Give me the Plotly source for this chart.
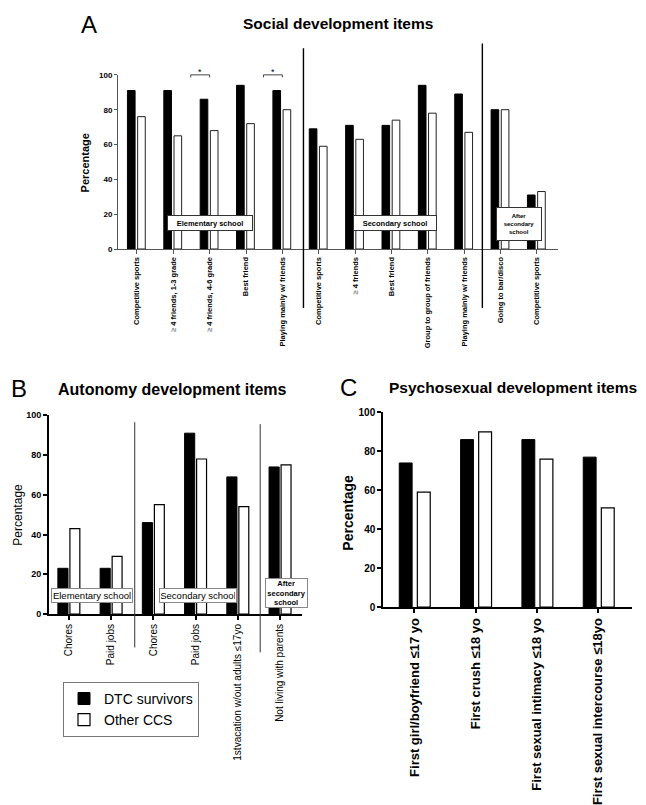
import plotly.graph_objects as go

W, H = 646, 805
FONT = "Liberation Sans, Arial, sans-serif"

# ---------------- data ----------------
a_labels = ["Competitive sports", "≥ 4 friends, 1-3 grade", "≥ 4 friends, 4-6 grade", "Best friend",
            "Playing mainly w/ friends", "Competitive sports", "≥ 4 friends", "Best friend",
            "Group to group of friends", "Playing mainly w/ friends", "Going to bar/disco",
            "Competitive sports"]
a_dtc = [91, 91, 86, 94, 91, 69, 71, 71, 94, 89, 80, 31]
a_other = [76, 65, 68, 72, 80, 59, 63, 74, 78, 67, 80, 33]

b_labels = ["Chores", "Paid jobs", "Chores", "Paid jobs", "1stvacation w/out adults ≤17yo",
            "Not living with parents"]
b_dtc = [23, 23, 46, 91, 69, 74]
b_other = [43, 29, 55, 78, 54, 75]

c_labels = ["First girl/boyfriend ≤17 yo", "First crush ≤18 yo", "First sexual intimacy ≤18 yo",
            "First sexual intercourse ≤18yo"]
c_dtc = [74, 86, 86, 77]
c_other = [59, 90, 76, 51]

series_names = ["DTC survivors", "Other CCS"]
y_ticks = [0, 20, 40, 60, 80, 100]


def px(x):
    return x / W


def py(y):
    return 1 - y / H


def gray_ge(s):
    return s.replace("≥", "<span style='color:#8a8a8a'>≥</span>")


fig = go.Figure()

# ---------------- Panel A ----------------
ax = list(range(len(a_labels)))
fig.add_trace(go.Bar(x=ax, y=a_dtc, offset=-0.26, width=0.21, marker=dict(color="black", line=dict(color="black", width=1)),
                     xaxis="x", yaxis="y", showlegend=False, name=series_names[0]))
fig.add_trace(go.Bar(x=ax, y=a_other, offset=0.02, width=0.21, marker=dict(color="white", line=dict(color="#222", width=1)),
                     xaxis="x", yaxis="y", showlegend=False, name=series_names[1]))

# ---------------- Panel B ----------------
bx = list(range(len(b_labels)))
fig.add_trace(go.Bar(x=bx, y=b_dtc, offset=-0.26, width=0.24, marker=dict(color="black", line=dict(color="black", width=1)),
                     xaxis="x2", yaxis="y2", showlegend=True, name=series_names[0]))
fig.add_trace(go.Bar(x=bx, y=b_other, offset=0.025, width=0.235, marker=dict(color="white", line=dict(color="black", width=1.2)),
                     xaxis="x2", yaxis="y2", showlegend=True, name=series_names[1]))

# ---------------- Panel C ----------------
cx = list(range(len(c_labels)))
fig.add_trace(go.Bar(x=cx, y=c_dtc, offset=-0.245, width=0.21, marker=dict(color="black", line=dict(color="black", width=1)),
                     xaxis="x3", yaxis="y3", showlegend=False, name=series_names[0]))
fig.add_trace(go.Bar(x=cx, y=c_other, offset=0.05, width=0.21, marker=dict(color="white", line=dict(color="black", width=1.2)),
                     xaxis="x3", yaxis="y3", showlegend=False, name=series_names[1]))

fig.update_layout(
    width=W, height=H, margin=dict(l=0, r=0, t=0, b=0), autosize=False,
    paper_bgcolor="white", plot_bgcolor="white", barmode="overlay",
    font=dict(family=FONT, color="black"),
    xaxis=dict(domain=[px(118), px(558)], range=[-0.52, 11.58], anchor="y",
               tickvals=ax, ticktext=[gray_ge(s) for s in a_labels], tickangle=-90,
               tickfont=dict(size=7.5, weight="bold", color="black"),
               showline=True, linecolor="#555", linewidth=1, ticks="outside", ticklen=4,
               tickcolor="#555", showgrid=False, zeroline=False),
    yaxis=dict(domain=[py(247), py(70)], range=[0, 100], anchor="x", tickvals=y_ticks,
               tickfont=dict(size=8, weight="bold", color="black"),
               showline=True, linecolor="#555", linewidth=1, ticks="outside", ticklen=3,
               tickcolor="#555", showgrid=False, zeroline=False),
    xaxis2=dict(domain=[px(49), px(302)], range=[-0.47, 5.52], anchor="y2",
                tickvals=bx, ticktext=b_labels, tickangle=-90,
                tickfont=dict(size=10, color="black"),
                showline=True, linecolor="black", linewidth=2, ticks="outside", ticklen=4,
                tickcolor="black", tickwidth=1.5, showgrid=False, zeroline=False),
    yaxis2=dict(domain=[py(618), py(416)], range=[0, 100], anchor="x2", tickvals=y_ticks,
                tickfont=dict(size=9, weight="bold", color="black"),
                showline=True, linecolor="black", linewidth=2, ticks="outside", ticklen=4,
                tickcolor="black", tickwidth=1.5, showgrid=False, zeroline=False),
    xaxis3=dict(domain=[px(383), px(632)], range=[-0.51, 3.55], anchor="y3",
                tickvals=cx, ticktext=c_labels, tickangle=-90,
                tickfont=dict(size=13, weight="bold", color="black"),
                showline=True, linecolor="black", linewidth=1.5, ticks="outside", ticklen=4,
                tickcolor="black", tickwidth=1.5, showgrid=False, zeroline=False),
    yaxis3=dict(domain=[py(611), py(413)], range=[0, 100], anchor="x3", tickvals=y_ticks,
                tickfont=dict(size=10, weight="bold", color="black"),
                showline=True, linecolor="black", linewidth=1.5, ticks="outside", ticklen=4,
                tickcolor="black", tickwidth=1.5, showgrid=False, zeroline=False),
    legend=dict(x=px(63), y=py(687), xanchor="left", yanchor="top", bgcolor="white",
                bordercolor="#777", borderwidth=1, font=dict(size=14, family=FONT),
                tracegroupgap=0, itemwidth=30),
)

shapes = []
# Panel A separators
shapes.append(dict(type="line", xref="x", yref="paper", x0=4.58, x1=4.58, y0=py(307), y1=py(43),
                   line=dict(color="black", width=1.4)))
shapes.append(dict(type="line", xref="x", yref="paper", x0=9.5, x1=9.5, y0=py(307), y1=py(38),
                   line=dict(color="black", width=1.4)))
# Panel B separators
shapes.append(dict(type="line", xref="x2", yref="paper", x0=1.56, x1=1.56, y0=py(652), y1=py(423),
                   line=dict(color="#333", width=1)))
shapes.append(dict(type="line", xref="x2", yref="paper", x0=4.53, x1=4.53, y0=py(657), y1=py(425),
                   line=dict(color="#333", width=1)))
# significance brackets in A
for c in (2, 4):
    shapes.append(dict(type="path", xref="x", yref="paper",
                       path=f"M {c-0.52},{py(72.5)} L {c-0.52},{py(70)} L {c},{py(70)} L {c},{py(72.5)}",
                       line=dict(color="#444", width=1)))
fig.update_layout(shapes=shapes)

ann = []


def text(x, y, s, size, bold=False, **kw):
    d = dict(x=px(x), y=py(y), xref="paper", yref="paper", text=s, showarrow=False,
             xanchor="center", yanchor="middle",
             font=dict(size=size, family=FONT, color="black", weight="bold" if bold else "normal"))
    d.update(kw)
    ann.append(d)


# panel letters and titles
text(89, 19, "A", 24)
text(338, 18, "Social development items", 15.5, bold=True)
text(19, 389, "B", 24)
text(172, 390, "Autonomy development items", 16, bold=True)
text(348, 388, "C", 24)
text(513, 388, "Psychosexual development items", 15.5, bold=True)

# y titles
text(85, 160, "Percentage", 11, bold=True, textangle=-90)
text(18, 517, "Percentage", 12, textangle=-90)
text(348, 515, "Percentage", 14, bold=True, textangle=-90)

# asterisks
for c in (2, 4):
    ann.append(dict(x=c - 0.26, y=py(67), xref="x", yref="paper", text="*", showarrow=False,
                    xanchor="center", yanchor="middle", font=dict(size=9, family=FONT, color="black")))

# boxes in panel A
text(210, 221, "Elementary school", 7.5, bold=True, bgcolor="white", bordercolor="#333", borderwidth=1,
     width=82, height=12, borderpad=1)
text(395, 221, "Secondary school", 7.5, bold=True, bgcolor="white", bordercolor="#333", borderwidth=1,
     width=80, height=12, borderpad=1)
text(519, 222, "After<br>secondary<br>school", 6, bold=True, bgcolor="white", bordercolor="#333",
     borderwidth=1, width=42, height=30, borderpad=1)

# boxes in panel B
text(92, 599, "Elementary school", 9.5, bgcolor="white", bordercolor="#888", borderwidth=1,
     width=78, height=11, borderpad=1)
text(198, 599, "Secondary school", 9.5, bgcolor="white", bordercolor="#888", borderwidth=1,
     width=74, height=11, borderpad=1)
text(286.5, 597, "After<br>secondary<br>school", 7.5, bold=True, bgcolor="white", bordercolor="#888",
     borderwidth=1, width=39, height=26, borderpad=1)

fig.update_layout(annotations=ann)

fig.write_html("out.html", config={"displayModeBar": False},
               post_script="document.body.style.margin='0px';document.body.style.overflow='hidden';")
